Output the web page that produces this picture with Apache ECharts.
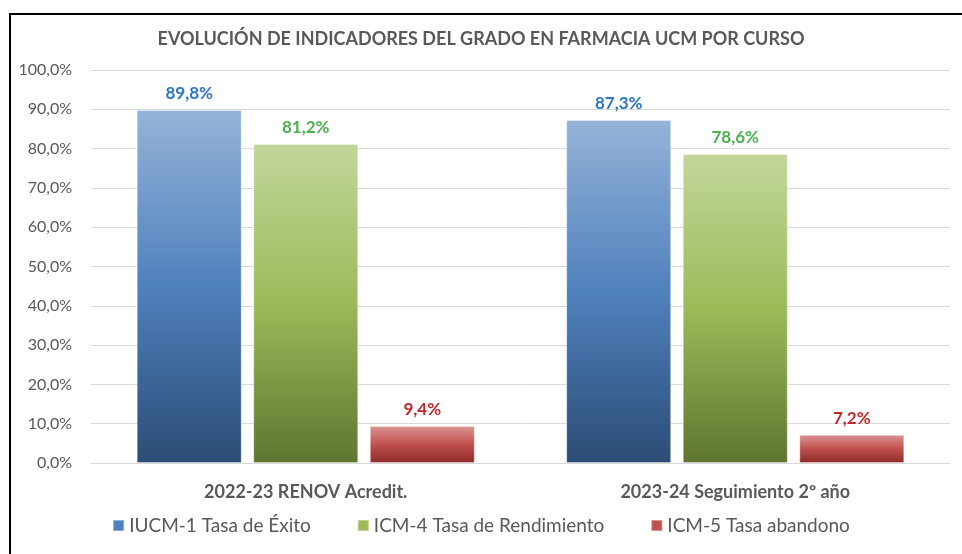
<!DOCTYPE html>
<html>
<head>
<meta charset="utf-8">
<script src="https://cdn.jsdelivr.net/npm/echarts@6/dist/echarts.min.js"></script>
<style>
  html, body { margin: 0; padding: 0; background: #fff; }
  #frame { position: absolute; left: 9px; top: 13px; width: 970px; height: 560px; border: 2px solid #000; box-sizing: border-box; }
  #chart { position: absolute; left: 0; top: 0; width: 962px; height: 554px; }
</style>
</head>
<body>
<div id="frame"></div>
<div id="chart"></div>
<script>
const categories = ['2022-23 RENOV Acredit.', '2023-24 Seguimiento 2º año'];
const exito = [89.8, 87.3];
const rendimiento = [81.2, 78.6];
const abandono = [9.4, 7.2];
const seriesNames = ['IUCM-1 Tasa de Éxito', 'ICM-4 Tasa de Rendimiento', 'ICM-5 Tasa abandono'];

const fontFamily = 'Lato, "Open Sans", sans-serif';
const textGrey = '#595959';

function grad(top, mid, bottom) {
  return new echarts.graphic.LinearGradient(0, 0, 0, 1, [
    { offset: 0, color: top },
    { offset: 0.5, color: mid },
    { offset: 1, color: bottom }
  ]);
}

function pct(v) {
  return v.toFixed(1).replace('.', ',') + '%';
}

var chart = echarts.init(document.getElementById('chart'));

function barSeries(name, data, fill, legendColor, labelColor) {
  return {
    name: name,
    type: 'bar',
    data: data,
    barWidth: 105,
    barGap: '11%',
    itemStyle: { color: fill, borderColor: 'rgba(255,255,255,0.35)', borderWidth: 1 },
    label: {
      show: true,
      position: 'top',
      distance: 8,
      color: labelColor,
      fontFamily: fontFamily,
      fontWeight: 'bold',
      fontSize: 17,
      formatter: p => pct(p.value)
    },
    emphasis: { disabled: true },
    legendColor: legendColor
  };
}

const series = [
  barSeries(seriesNames[0], exito, grad('#95B3D7', '#4F81BD', '#2C4D75'), '#4F81BD', '#2E75C6'),
  barSeries(seriesNames[1], rendimiento, grad('#C3D69B', '#9BBB59', '#5F7530'), '#9BBB59', '#4CAF50'),
  barSeries(seriesNames[2], abandono, grad('#D99694', '#C0504D', '#8B2B28'), '#C0504D', '#C0282D')
];

const option = {
  animation: false,
  title: {
    text: 'EVOLUCIÓN DE INDICADORES DEL GRADO EN FARMACIA UCM POR CURSO',
    left: 'center',
    top: 25,
    textStyle: { color: textGrey, fontFamily: fontFamily, fontWeight: 'bold', fontSize: 18 }
  },
  legend: {
    bottom: 14,
    left: 'center',
    itemWidth: 11,
    itemHeight: 11,
    itemGap: 46,
    icon: 'rect',
    textStyle: { color: textGrey, fontFamily: fontFamily, fontSize: 19 },
    data: series.map(s => ({ name: s.name, itemStyle: { color: grad(s.legendColor, s.legendColor, s.legendColor) } }))
  },
  grid: { left: 91, right: 12, top: 70, bottom: 91 },
  xAxis: {
    type: 'category',
    data: categories,
    axisLine: { lineStyle: { color: '#d9d9d9' } },
    axisTick: { show: false },
    axisLabel: { color: textGrey, fontFamily: fontFamily, fontWeight: 'bold', fontSize: 18, margin: 20 }
  },
  yAxis: {
    type: 'value',
    min: 0,
    max: 100,
    interval: 10,
    axisLine: { show: false },
    axisTick: { show: false },
    splitLine: { lineStyle: { color: '#d9d9d9' } },
    axisLabel: { color: textGrey, fontFamily: fontFamily, fontSize: 16, margin: 19, formatter: v => pct(v) }
  },
  series: series
};

chart.setOption(option);
</script>
</body>
</html>
